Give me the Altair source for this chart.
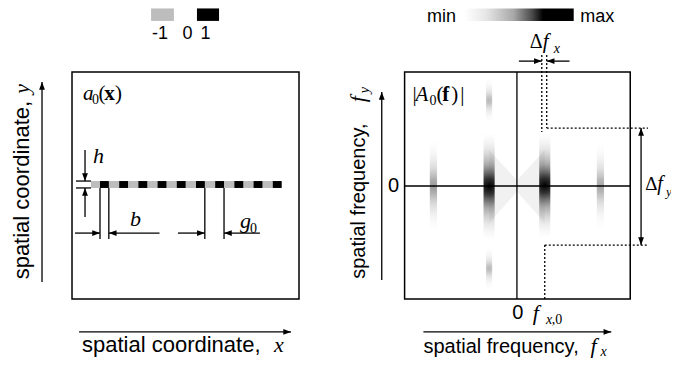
import altair as alt
import pandas as pd

SANS = "Liberation Sans"
SERIF = "Liberation Serif"

# ================= LEFT PANEL: real-space pattern a0(x)  (unit = grating period g0) =================
left_view_x = [-4.7917, 29.7396]
left_view_y = [-9.0365, 9.1927]
left_frame = [-1.458, 10.365, -5.964, 5.859]          # x0, x1, y0, y1 of the panel frame

strip_x = [-0.47, 9.46]                                 # grey (-1) background of the grating line
strip_y = [-0.18, 0.18]                                 # height h
black_start = [0, 1, 2, 3, 4, 5, 6, 7, 8, 9]            # elements with value 1
black_width = 0.46                                      # b

key_x0 = [2.66, 5.05]
key_x1 = [3.85, 6.20]
key_y = [8.52, 9.17]
key_fill = ["#bdbdbd", "#000000"]
key_labels = ["-1", "0", "1"]
key_label_x = [3.125, 4.56, 5.5]
key_label_y = [7.60, 7.60, 7.60]

left_x1 = [-0.78, -0.78, -1.25, -1.25, 0.0, 0.46, -1.30, 3.10, 5.46, 6.46, 4.06, 8.33, -3.02, -1.09]
left_y1 = [1.80, -0.18, 0.18, -0.18, -0.18, -0.18, -2.53, -2.53, -0.18, -0.18, -2.53, -2.53, -5.08, -7.68]
left_x2 = [-0.78, -0.78, -0.47, -0.47, 0.0, 0.46, 0.0, 0.46, 5.46, 6.46, 5.46, 6.46, -3.02, 9.95]
left_y2 = [0.18, -1.69, 0.18, -0.18, -2.84, -2.84, -2.53, -2.53, -2.84, -2.84, -2.53, -2.53, 5.34, -7.68]

left_tip_x = [-0.78, -0.78, 0.0, 0.46, 5.46, 6.46, -3.02, 9.95]
left_tip_y = [0.18, -0.18, -2.53, -2.53, -2.53, -2.53, 5.34, -7.68]
left_tip_angle = [90, 270, 0, 180, 0, 180, 270, 0]

# text pieces: (text, x, y, font size)
left_sans = [("spatial coordinate,", -0.94, -8.75, 22)]
left_sans_rot = [("spatial coordinate,", -3.72, -0.29, 22)]
left_italic = [("x", 9.06, -8.75, 22), ("h", -0.36, 1.12, 22), ("b", 1.56, -2.16, 22),
               ("g", 7.29, -2.27, 22), ("a", -0.89, 4.40, 21)]
left_italic_rot = [("y", -3.72, 4.98, 22)]
left_regular = [("0", 7.81, -2.53, 14), ("0", -0.42, 4.19, 14), ("(", -0.08, 4.40, 21), (")", 0.78, 4.40, 21)]
left_bold = [("x", 0.22, 4.40, 21)]

# ================= RIGHT PANEL: spectrum |A0(f)|  (unit = f_x,0) =================
right_view_x = [-18.2857, 5.5357]
right_view_y = [-6.1429, 6.3571]
right_frame = [-4.036, 4.071, -4.036, 4.071]

# spectral lobes: centre fx, fy range, half width, relative strength
lobe_fx = [-1.0, 1.0, -3.0, 3.0, -1.0, -1.0]
lobe_fy0 = [-1.92, -1.85, -1.64, -1.55, 2.25, -3.71]
lobe_fy1 = [1.90, 1.90, 1.64, 1.55, 3.86, -2.18]
lobe_halfw = [0.2, 0.2, 0.13, 0.13, 0.11, 0.11]
lobe_strength = [1.0, 1.0, 0.4, 0.35, 0.28, 0.28]

haze_fx = [-1.0, 0.0, 1.0]
haze_lo = [-1.32, -0.2, -1.32]
haze_hi = [1.29, 0.2, 1.29]

cbar_x = [-1.89, 2.04]
cbar_y = [5.89, 6.34]

right_x1 = [0.0, -4.036, 0.07, 1.89, 4.46, -4.857, -3.36]
right_y1 = [-4.036, 0.0, 4.46, 4.46, 2.07, -3.36, -5.21]
right_x2 = [0.0, 4.071, 0.893, 1.07, 4.46, -4.857, 3.39]
right_y2 = [4.071, 0.0, 4.46, 4.46, -2.11, 3.36, -5.21]

dot_x1 = [0.893, 1.07, 1.07, 1.0, 1.0]
dot_y1 = [4.68, 4.68, 2.07, -2.11, -2.11]
dot_x2 = [0.893, 1.07, 4.71, 4.71, 1.0]
dot_y2 = [1.93, 2.07, 2.07, -2.11, -4.036]

right_tip_x = [0.893, 1.07, 4.46, 4.46, -4.857, 3.39]
right_tip_y = [4.46, 4.46, 2.07, -2.11, 3.36, -5.21]
right_tip_angle = [0, 180, 270, 90, 270, 0]

right_sans = [("spatial frequency,", -3.36, -5.95, 20)]
right_sans_rot = [("spatial frequency,", -5.46, -0.54, 20)]
right_sans_key = [("min", -2.71, 5.84, 18), ("max", 2.89, 5.84, 18)]
right_sans_mid = [("0", -4.43, 0.0, 20), ("0", 0.036, -4.55, 20)]
right_italic = [("f", 2.64, -5.95, 22), ("x", 3.0, -6.07, 14), ("f", 0.57, -4.78, 22), ("x", 1.04, -4.93, 14),
                ("f", 0.93, 4.93, 21), ("x", 1.32, 4.76, 14), ("f", 5.04, -0.14, 20), ("y", 5.36, -0.37, 13),
                ("A", -3.64, 3.04, 21)]
right_italic_rot = [("f", -5.46, 3.10, 22), ("y", -5.32, 3.42, 14)]
right_regular = [(",0", 1.25, -4.93, 14), ("\u0394", 0.46, 4.93, 20), ("\u0394", 4.61, -0.14, 19),
                 ("|", -3.75, 3.04, 21), ("0", -3.14, 2.89, 14), ("(", -2.89, 3.04, 21),
                 (")", -2.36, 3.04, 21), ("|", -2.04, 3.04, 21)]
right_bold = [("f", -2.68, 3.04, 21)]

# ================= helpers =================
ARROW = "M0,0 L-2,-0.75 L-2,0.75 Z"


def enc(xs, ys, x="x", y="y"):
    return dict(x=alt.X(f"{x}:Q", scale=xs, axis=None), y=alt.Y(f"{y}:Q", scale=ys, axis=None))


def text_layer(rows, xs, ys, font, style="normal", weight="normal", align="left",
               baseline="alphabetic", angle=0):
    df = pd.DataFrame(rows, columns=["t", "x", "y", "s"])
    return alt.Chart(df).mark_text(font=font, fontStyle=style, fontWeight=weight, align=align,
                                   baseline=baseline, angle=angle, color="black").encode(
        text="t:N", size=alt.Size("s:Q", scale=None, legend=None), **enc(xs, ys))


def rect_layer(df, xs, ys, **mk):
    return alt.Chart(df).mark_rect(**mk).encode(
        x=alt.X("x:Q", scale=xs, axis=None), x2="x2:Q",
        y=alt.Y("y:Q", scale=ys, axis=None), y2="y2:Q")


def rule_layer(x1, y1, x2, y2, xs, ys, **mk):
    df = pd.DataFrame({"x": x1, "y": y1, "x2": x2, "y2": y2})
    return alt.Chart(df).mark_rule(color="black", **mk).encode(
        x=alt.X("x:Q", scale=xs, axis=None), x2="x2:Q",
        y=alt.Y("y:Q", scale=ys, axis=None), y2="y2:Q")


def tips_layer(tx, ty, ta, xs, ys):
    df = pd.DataFrame({"x": tx, "y": ty, "a": ta})
    return alt.Chart(df).mark_point(shape=ARROW, filled=True, color="black", opacity=1, size=60,
                                     strokeWidth=0).encode(
        angle=alt.Angle("a:Q", scale=None), **enc(xs, ys))


# ================= left panel =================
lxs = alt.Scale(domain=left_view_x, nice=False, zero=False)
lys = alt.Scale(domain=left_view_y, nice=False, zero=False)

l_frame = rect_layer(pd.DataFrame({"x": [left_frame[0]], "x2": [left_frame[1]],
                                   "y": [left_frame[2]], "y2": [left_frame[3]]}),
                     lxs, lys, filled=False, stroke="black", strokeWidth=1.5)
l_strip = rect_layer(pd.DataFrame({"x": [strip_x[0]], "x2": [strip_x[1]],
                                   "y": [strip_y[0]], "y2": [strip_y[1]]}),
                     lxs, lys, color="#bdbdbd")
l_black = rect_layer(pd.DataFrame({"x": black_start, "x2": [v + black_width for v in black_start],
                                   "y": [strip_y[0]] * len(black_start), "y2": [strip_y[1]] * len(black_start)}),
                     lxs, lys, color="black")
l_key = alt.Chart(pd.DataFrame({"x": key_x0, "x2": key_x1, "y": [key_y[0]] * 2, "y2": [key_y[1]] * 2,
                                "c": key_fill})).mark_rect().encode(
    x=alt.X("x:Q", scale=lxs, axis=None), x2="x2:Q", y=alt.Y("y:Q", scale=lys, axis=None), y2="y2:Q",
    color=alt.Color("c:N", scale=None))
l_lines = rule_layer(left_x1, left_y1, left_x2, left_y2, lxs, lys, strokeWidth=1.3)
l_tips = tips_layer(left_tip_x, left_tip_y, left_tip_angle, lxs, lys)

left = alt.layer(
    l_frame, l_strip, l_black, l_key, l_lines, l_tips,
    text_layer(left_sans, lxs, lys, SANS),
    text_layer(left_sans_rot, lxs, lys, SANS, align="center", angle=270),
    text_layer(list(zip(key_labels, key_label_x, key_label_y, [18, 18, 18])), lxs, lys, SANS, align="center"),
    text_layer(left_italic, lxs, lys, SERIF, style="italic"),
    text_layer(left_italic_rot, lxs, lys, SERIF, style="italic", align="center", angle=270),
    text_layer(left_regular, lxs, lys, SERIF),
    text_layer(left_bold, lxs, lys, SERIF, weight="bold"),
)

# ================= right panel =================
rxs = alt.Scale(domain=right_view_x, nice=False, zero=False)
rys = alt.Scale(domain=right_view_y, nice=False, zero=False)

r_frame = rect_layer(pd.DataFrame({"x": [right_frame[0]], "x2": [right_frame[1]],
                                   "y": [right_frame[2]], "y2": [right_frame[3]]}),
                     rxs, rys, filled=False, stroke="black", strokeWidth=1.5)

haze = alt.Chart(pd.DataFrame({"x": haze_fx, "y": haze_lo, "y2": haze_hi})).mark_area(
    color="#cfcfcf", opacity=0.3).encode(y2="y2:Q", **enc(rxs, rys))

lobe_grad = alt.RadialGradient(
    gradient="radial", x1=0.5, y1=0.5, r1=0, x2=0.5, y2=0.5, r2=0.5,
    stops=[alt.GradientStop(offset=0, color="#000000"),
           alt.GradientStop(offset=0.15, color="rgba(30,30,30,0.9)"),
           alt.GradientStop(offset=0.4, color="rgba(95,95,95,0.55)"),
           alt.GradientStop(offset=0.7, color="rgba(160,160,160,0.25)"),
           alt.GradientStop(offset=1, color="rgba(210,210,210,0)")])
lobes = alt.Chart(pd.DataFrame({
    "x": [c - w for c, w in zip(lobe_fx, lobe_halfw)],
    "x2": [c + w for c, w in zip(lobe_fx, lobe_halfw)],
    "y": lobe_fy0, "y2": lobe_fy1, "o": lobe_strength})).mark_rect(fill=lobe_grad).encode(
    x=alt.X("x:Q", scale=rxs, axis=None), x2="x2:Q", y=alt.Y("y:Q", scale=rys, axis=None), y2="y2:Q",
    opacity=alt.Opacity("o:Q", scale=None, legend=None))

cbar_grad = alt.LinearGradient(
    gradient="linear", x1=0, y1=0, x2=1, y2=0,
    stops=[alt.GradientStop(offset=0, color="#ffffff"),
           alt.GradientStop(offset=0.2, color="#e6e6e6"),
           alt.GradientStop(offset=0.45, color="#a8a8a8"),
           alt.GradientStop(offset=0.62, color="#4a4a4a"),
           alt.GradientStop(offset=0.72, color="#000000"),
           alt.GradientStop(offset=1, color="#000000")])
cbar = rect_layer(pd.DataFrame({"x": [cbar_x[0]], "x2": [cbar_x[1]], "y": [cbar_y[0]], "y2": [cbar_y[1]]}),
                  rxs, rys, fill=cbar_grad)

r_lines = rule_layer(right_x1, right_y1, right_x2, right_y2, rxs, rys, strokeWidth=1.3)
r_dots = rule_layer(dot_x1, dot_y1, dot_x2, dot_y2, rxs, rys, strokeWidth=1.3, strokeDash=[2, 2])
r_tips = tips_layer(right_tip_x, right_tip_y, right_tip_angle, rxs, rys)

right = alt.layer(
    haze, lobes, r_frame, cbar, r_lines, r_dots, r_tips,
    text_layer(right_sans, rxs, rys, SANS),
    text_layer(right_sans_rot, rxs, rys, SANS, align="center", angle=270),
    text_layer(right_sans_key, rxs, rys, SANS, align="center"),
    text_layer(right_sans_mid, rxs, rys, SANS, align="center", baseline="middle"),
    text_layer(right_italic, rxs, rys, SERIF, style="italic"),
    text_layer(right_italic_rot, rxs, rys, SERIF, style="italic", align="center", angle=270),
    text_layer(right_regular, rxs, rys, SERIF),
    text_layer(right_bold, rxs, rys, SERIF, weight="bold"),
)

chart = alt.layer(left, right).resolve_scale(x="independent", y="independent").properties(
    width=663, height=350, autosize=alt.AutoSizeParams(type="none"), padding=0
).configure_view(strokeWidth=0)

chart.save("out.html", embed_options={"renderer": "svg", "actions": False})
